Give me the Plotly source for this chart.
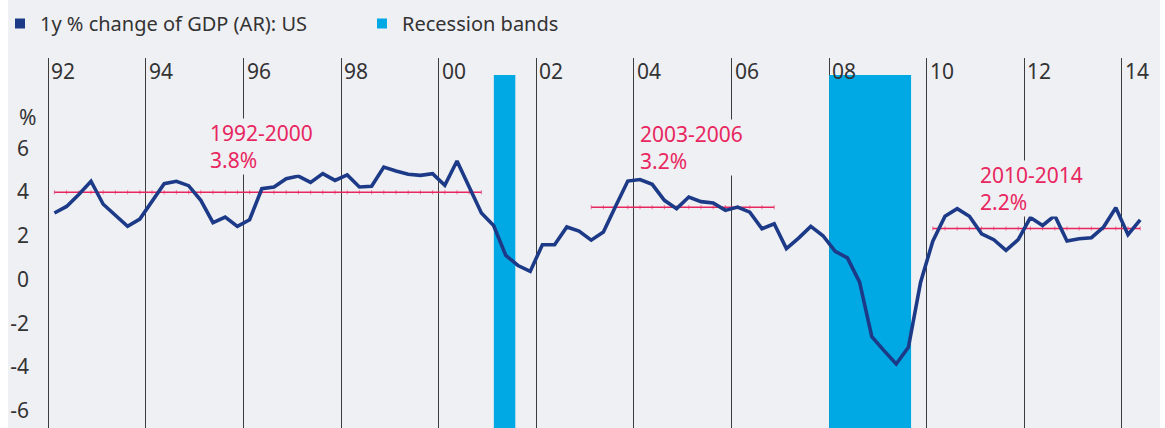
import plotly.graph_objects as go
import numpy as np

# ---------------- data ----------------
start_year = 1992
# 1y % change of US GDP, quarterly, 1992Q1 .. 2014Q2
gdp_yoy = [
    3.04, 3.34, 3.89, 4.49,   # 1992
    3.44, 2.93, 2.43, 2.76,   # 1993
    3.54, 4.38, 4.49, 4.29,   # 1994
    3.62, 2.60, 2.85, 2.43,   # 1995
    2.73, 4.15, 4.23, 4.61,   # 1996
    4.73, 4.44, 4.84, 4.53,   # 1997
    4.78, 4.23, 4.26, 5.14,   # 1998
    4.96, 4.81, 4.76, 4.84,   # 1999
    4.31, 5.42, 4.23, 3.04,   # 2000
    2.47, 1.10, 0.64, 0.37,   # 2001
    1.59, 1.59, 2.40, 2.21,   # 2002
    1.80, 2.17, 3.35, 4.50,   # 2003
    4.57, 4.35, 3.62, 3.24,   # 2004
    3.77, 3.56, 3.50, 3.16,   # 2005
    3.31, 3.08, 2.32, 2.55,   # 2006
    1.41, 1.89, 2.43, 2.00,   # 2007
    1.29, 0.99, -0.12, -2.61, # 2008
    -3.25, -3.86, -3.10, -0.12,  # 2009
    1.75, 2.89, 3.24, 2.89,   # 2010
    2.09, 1.82, 1.33, 1.82,   # 2011
    2.83, 2.47, 2.92, 1.76,   # 2012
    1.86, 1.91, 2.40, 3.28,   # 2013
    2.05, 2.73,               # 2014
]

tick_years = [1992, 1994, 1996, 1998, 2000, 2002, 2004, 2006, 2008, 2010, 2012, 2014]
tick_labels = ["92", "94", "96", "98", "00", "02", "04", "06", "08", "10", "12", "14"]

y_ticks = [-6, -4, -2, 0, 2, 4, 6]
y_tick_labels = ["-6", "-4", "-2", "0", "2", "4", "6"]

recession_start = [2001.13, 2008.00]
recession_end = [2001.57, 2009.68]

period_names = ["1992-2000", "2003-2006", "2010-2014"]
period_first = [1992, 2003, 2010]
period_last = [2000, 2006, 2014]
period_avg_text = ["3.8%", "3.2%", "2.2%"]

legend_names = ["1y % change of GDP (AR): US", "Recession bands"]

# ---------------- styling ----------------
BG = "#eff0f3"
NAVY = "#1c3a87"
CYAN = "#00a9e4"
PINK = "#e8265f"
GRID = "#3c3c3c"
TEXT = "#333333"
FONT = "Noto Sans"

# quarter positions (mid-quarter, in fractional years)
q_index = np.arange(len(gdp_yoy))
x_q = start_year + q_index / 4.0 + 0.125
q_year = start_year + q_index // 4

PX_PER_YEAR = 48.8
x_left = 1992 - 8.3 / PX_PER_YEAR
x_right = x_left + 1120 / PX_PER_YEAR
BAND_TOP = 9.35
BAND_BASE = -8

fig = go.Figure()

# recession bands
for s, e in zip(recession_start, recession_end):
    fig.add_trace(go.Bar(
        x=[(s + e) / 2], y=[BAND_TOP - BAND_BASE], base=[BAND_BASE], width=[e - s],
        marker=dict(color=CYAN, line=dict(width=0)), showlegend=False, hoverinfo="skip"))

# period averages
gdp_arr = np.array(gdp_yoy)
for name, a, b in zip(period_names, period_first, period_last):
    m = (q_year >= a) & (q_year <= b)
    avg = gdp_arr[m].mean()
    fig.add_trace(go.Scatter(
        x=x_q[m], y=[avg] * int(m.sum()), mode="lines+markers",
        line=dict(color=PINK, width=1.5),
        marker=dict(symbol="line-ns", size=3, line=dict(color=PINK, width=0.6)),
        showlegend=False, hoverinfo="skip"))

# GDP line
fig.add_trace(go.Scatter(
    x=x_q, y=gdp_yoy, mode="lines", line=dict(color=NAVY, width=3.6),
    showlegend=False))

# legend-only entries (square markers)
for nm, col in zip(legend_names, [NAVY, CYAN]):
    fig.add_trace(go.Scatter(
        x=[None], y=[None], mode="markers", name=nm,
        marker=dict(symbol="square", size=10, color=col)))

annotations = []
# x tick labels to the right of the gridlines
for yr, lab in zip(tick_years, tick_labels):
    annotations.append(dict(
        x=yr, y=1, xref="x", yref="paper", text=lab, showarrow=False,
        xanchor="left", yanchor="top", xshift=1, yshift=3,
        font=dict(family=FONT, size=21, color=TEXT)))

# % unit label
annotations.append(dict(
    x=-23 / 1120, y=7.43, xref="paper", yref="y", text="%", showarrow=False,
    xanchor="left", yanchor="middle", font=dict(family=FONT, size=21, color=TEXT)))

# period annotations
label_pos = [(1995.30, 6.10), (2004.11, 6.05), (2011.08, 4.15)]
for (lx, ly), nm, txt in zip(label_pos, period_names, period_avg_text):
    annotations.append(dict(
        x=lx, y=ly, xref="x", yref="y", text=nm + "<br>" + txt, showarrow=False,
        xanchor="left", yanchor="middle", align="left", bgcolor=BG, borderpad=0,
        font=dict(family=FONT, size=21, color=PINK)))

fig.update_layout(
    width=1165, height=428,
    margin=dict(l=40, r=5, t=58, b=0, pad=0),
    paper_bgcolor="white", plot_bgcolor="rgba(0,0,0,0)",
    font=dict(family=FONT, color=TEXT),
    barmode="overlay",
    xaxis=dict(range=[x_left, x_right], tickvals=tick_years, showticklabels=False,
               showgrid=True, gridcolor=GRID, gridwidth=1, zeroline=False,
               showline=False, ticks=""),
    yaxis=dict(range=[(279.5 - 428) / 21.875, (279.5 - 58) / 21.875],
               tickvals=y_ticks, ticktext=y_tick_labels, showgrid=False,
               zeroline=False, showline=False, ticks="", ticklabelstandoff=10,
               tickfont=dict(family=FONT, size=21, color=TEXT)),
    shapes=[dict(type="rect", xref="paper", yref="paper",
                 x0=-32 / 1120, x1=1.0, y0=0, y1=428 / 370,
                 fillcolor=BG, line=dict(width=0), layer="below")],
    annotations=annotations,
    legend=dict(orientation="h", x=-40 / 1120, y=424 / 370, xanchor="left", yanchor="top",
                font=dict(family=FONT, size=20, color=TEXT), bgcolor="rgba(0,0,0,0)",
                entrywidth=317, entrywidthmode="pixels", itemclick=False),
    showlegend=True,
)

fig.write_html("out.html")
